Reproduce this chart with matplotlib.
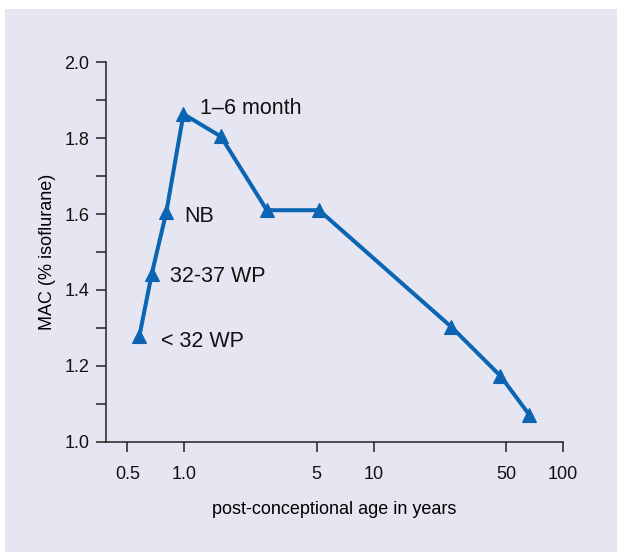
import matplotlib.pyplot as plt
from matplotlib.patches import Rectangle
from matplotlib.ticker import FixedLocator, MultipleLocator

plt.rcParams['font.family'] = ['Liberation Sans', 'DejaVu Sans']

# post-conceptional age (years) and MAC (% isoflurane)
age = [0.58, 0.673, 0.803, 0.99, 1.56, 2.73, 5.15, 25.7, 46.7, 66.5]
mac = [1.28, 1.442, 1.604, 1.863, 1.804, 1.61, 1.61, 1.303, 1.174, 1.071]

# labelled points: (index, text, offset in points)
labels = [
    (0, '< 32 WP', (15.5, -8.5)),
    (1, '32-37 WP', (13.5, -6.0)),
    (2, 'NB', (13.0, -6.5)),
    (3, '1\u20136 month', (12.0, 0.0)),
]

xticks = [0.5, 1.0, 5, 10, 50, 100]
xticklabels = ['0.5', '1.0', '5', '10', '50', '100']

fig = plt.figure(figsize=(6.17, 5.52), dpi=100)
# lavender panel behind everything
fig.patches.append(Rectangle((5 / 617, 0), 1, 543 / 552, transform=fig.transFigure,
                             facecolor='#e6e6f2', edgecolor='none', zorder=-10))

ax = fig.add_axes([106 / 617, 110 / 552, 457 / 617, 380 / 552])
ax.set_zorder(5)
ax.patch.set_visible(False)

line_color = '#0b65b2'
ax.plot(age, mac, color=line_color, linewidth=2.9, marker='^', markersize=10.5,
        markeredgewidth=0.8, markeredgecolor=line_color, clip_on=False)

for i, txt, off in labels:
    ax.annotate(txt, (age[i], mac[i]), xytext=off, textcoords='offset points',
                ha='left', va='baseline', fontsize=15.5, color='#111111')

ax.set_xscale('log')
ax.set_xlim(0.386, 100)
ax.set_ylim(1.0, 2.0)
ax.xaxis.set_major_locator(FixedLocator(xticks))
ax.xaxis.set_minor_locator(FixedLocator([]))
ax.set_xticklabels(xticklabels)
ax.yaxis.set_major_locator(MultipleLocator(0.2))
ax.yaxis.set_minor_locator(MultipleLocator(0.1))
ax.yaxis.set_major_formatter(plt.FuncFormatter(lambda v, p: f'{v:.1f}'))

for side in ['top', 'right']:
    ax.spines[side].set_visible(False)
for side in ['left', 'bottom']:
    ax.spines[side].set_linewidth(1.1)
    ax.spines[side].set_color('#222222')

ax.tick_params(axis='both', which='both', direction='out', length=7, width=1.1,
               color='#222222', labelsize=13, labelcolor='#111111', pad=5)
ax.tick_params(axis='x', pad=10)

ax.set_xlabel('post-conceptional age in years', fontsize=13, labelpad=13)
ax.set_ylabel('MAC (% isoflurane)', fontsize=13, labelpad=6)

fig.savefig('out.png', dpi=100)
